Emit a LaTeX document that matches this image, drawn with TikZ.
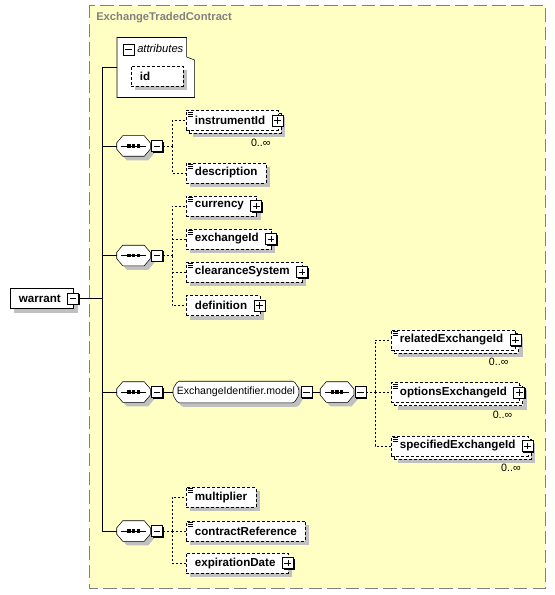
\documentclass[tikz,border=0pt]{standalone}
\usepackage{fontspec}
\setmainfont{Liberation Sans}
\usetikzlibrary{positioning,shadows}

\definecolor{boxfill}{RGB}{255,255,196}
\definecolor{boxline}{RGB}{128,128,128}
\definecolor{shade}{RGB}{192,192,192}

\pgfdeclarelayer{back}
\pgfdeclarelayer{shapes}
\pgfsetlayers{back,shapes,main}

\tikzset{
  name font/.style={font=\fontsize{8.7pt}{10pt}\selectfont\bfseries},
  shaded/.style={drop shadow={shadow xshift=3pt,shadow yshift=-3pt,fill=shade,opacity=1}},
  elem/.style={name font,draw,fill=white,dash pattern=on 2.25pt off 1.5pt,
    minimum height=15pt,inner xsep=6.5pt,inner ysep=0pt,anchor=west},
  single/.style={elem,shaded},
  multi/.style={elem,
    drop shadow={shadow xshift=5.25pt,shadow yshift=-5.25pt,fill=shade,opacity=1},
    copy shadow={shadow xshift=2.25pt,shadow yshift=-2.25pt,draw=black,fill=white,opacity=1}},
  simple/.style={path picture={
    \foreach \k in {1.1,2.6,4.1}
      \draw[solid,line width=0.6pt] ([shift={(1.2pt,-\k*1pt)}]path picture bounding box.north west) -- ++(4pt,0);}},
  sign room/.style={execute at end node={\hspace{3pt}}},
  boxsign/.style={draw,solid,fill=white,minimum size=8.25pt,inner sep=0pt},
  signshadow/.style={drop shadow={shadow xshift=1pt,shadow yshift=-1pt,fill=black,opacity=1}},
  minus sign/.style={path picture={
    \draw[solid] ([xshift=1.6pt]path picture bounding box.west) -- ([xshift=-1.6pt]path picture bounding box.east);}},
  plus sign/.style={path picture={
    \draw[solid] ([xshift=1.6pt]path picture bounding box.west) -- ([xshift=-1.6pt]path picture bounding box.east)
      ([yshift=-1.6pt]path picture bounding box.north) -- ([yshift=1.6pt]path picture bounding box.south);}},
  minusbox/.style={boxsign,signshadow,minus sign},
  plusbox/.style={boxsign,signshadow,plus sign},
  seq/.style={minimum width=24.75pt,minimum height=15pt,inner sep=0pt},
  grp/.style={font=\fontsize{7.9pt}{9pt}\selectfont,minimum width=94pt,minimum height=15.75pt,inner sep=0pt,anchor=west},
  conn/.style={dash pattern=on 1.5pt off 1.5pt},
  occ/.style={font=\fontsize{8pt}{9pt}\selectfont,inner sep=0pt,anchor=east},
}

% octagon outline behind a node
\newcommand\chamfer[3][]{%
  \begin{pgfonlayer}{shapes}
    \path[draw,fill=white,shaded,#1] ([yshift=2.4pt]#2.west) -- ([xshift=#3]#2.north west)
      -- ([xshift=-#3]#2.north east) -- ([yshift=2.4pt]#2.east) -- ([yshift=-2.4pt]#2.east)
      -- ([xshift=-#3]#2.south east) -- ([xshift=#3]#2.south west) -- ([yshift=-2.4pt]#2.west) -- cycle;
  \end{pgfonlayer}}
% sequence compositor
\newcommand\seqmark[1]{%
  \chamfer{#1}{4.5pt}
  \draw ([xshift=3.5pt]#1.west) -- ([xshift=-3.5pt]#1.east);
  \foreach \d in {-3.5,0,3.5}
    \fill ([xshift=\d*1pt]#1.center) +(-1.25pt,-1.25pt) rectangle +(1.25pt,1.25pt);}

\begin{document}
\begin{tikzpicture}[x=0.75pt,y=-0.75pt,line width=0.75pt]
  \useasboundingbox (0,0) rectangle (555,595);
  % complex type box
  \begin{pgfonlayer}{back}
    \draw[boxline,fill=boxfill,dash pattern=on 10pt off 4pt] (89,5) rectangle (545,588);
  \end{pgfonlayer}
  \node[anchor=west,inner sep=0pt,text=boxline,font=\fontsize{8.4pt}{10pt}\selectfont\bfseries] (title) at (96,18) {ExchangeTradedContract};

  % attributes
  \node[minimum width=57.75pt,minimum height=44.6pt,inner sep=0pt,anchor=north west] (attr) at (117,37.5) {};
  \draw[fill=white] (attr.south west) |- ([xshift=-6pt]attr.north east)
    -- ([shift={(-6pt,-14.6pt)}]attr.north east) -- ([yshift=-16.9pt]attr.north east) -- (attr.south east) -- cycle;
  \node[boxsign,minus sign] (attrminus) at (128.5,49.5) {};
  \node[anchor=west,inner sep=0pt,font=\fontsize{8.4pt}{10pt}\selectfont\itshape] (attrlabel) at (137,49) {attributes};
  \node[single,text width=26pt,align=left] (id) at (131,76) {id};

  % root element
  \node[elem,solid,shaded,sign room] (warrant) at (10,298.5) {warrant};
  \node[minusbox] (warrantminus) at ([xshift=-0.5pt]warrant.east) {};
  \coordinate (trunk) at (102,298.5);

  % sequences
  \node[seq] (seqA) at (133.5,146) {};
  \node[minusbox,right=0.75pt of seqA] (seqAminus) {};
  \node[seq] (seqB) at (133.5,255.5) {};
  \node[minusbox,right=0.75pt of seqB] (seqBminus) {};
  \node[seq] (seqC) at (133.5,392) {};
  \node[minusbox,right=0.75pt of seqC] (seqCminus) {};
  \node[grp] (model) at (173,392) {ExchangeIdentifier.model};
  \node[minusbox,right=1.5pt of model] (modelminus) {};
  \node[seq] (seqD) at (337,392) {};
  \node[minusbox,right=0.75pt of seqD] (seqDminus) {};
  \node[seq] (seqE) at (133.5,531) {};
  \node[minusbox,right=0.75pt of seqE] (seqEminus) {};
  \foreach \s in {seqA,seqB,seqC,seqD,seqE}
    \seqmark{\s};
  \chamfer[rounded corners=1.2pt]{model}{3.5pt}

  \coordinate (jA) at (172,146);
  \coordinate (jB) at (172,255.5);
  \coordinate (jD) at (375,392);
  \coordinate (jE) at (172,531);

  % elements
  \node[multi,simple,sign room] (instrumentId) at (186,120.5) {instrumentId};
  \node[single,simple] (description) at (186,173) {description};
  \node[single,simple,sign room] (currency) at (186,206) {currency};
  \node[single,simple,sign room] (exchangeId) at (186,239) {exchangeId};
  \node[single,simple,sign room] (clearanceSystem) at (186,272) {clearanceSystem};
  \node[single,sign room] (definition) at (186,305.5) {definition};
  \node[multi,simple,sign room] (relatedExchangeId) at (391,340) {relatedExchangeId};
  \node[multi,simple,sign room] (optionsExchangeId) at (391,392.5) {optionsExchangeId};
  \node[multi,simple,sign room] (specifiedExchangeId) at (391,446) {specifiedExchangeId};
  \node[single,simple] (multiplier) at (186,497) {multiplier};
  \node[single,simple] (contractReference) at (186,531) {contractReference};
  \node[single,sign room] (expirationDate) at (186,563) {expirationDate};

  \foreach \n in {instrumentId,currency,exchangeId,clearanceSystem,definition,
      relatedExchangeId,optionsExchangeId,specifiedExchangeId,expirationDate}
    \node[plusbox] (\n plus) at ([xshift=-0.5pt]\n.east) {};
  \foreach \n in {instrumentId,relatedExchangeId,optionsExchangeId,specifiedExchangeId}
    \node[occ] (\n occ) at ([shift={(-5.5pt,-9pt)}]\n.south east) {0..∞};

  % connectors
  \draw (warrantminus.east) -- (trunk);
  \foreach \n in {attr,seqA,seqB,seqC,seqE}
    \draw (\n.west) -| (trunk);
  \draw (seqCminus.east) -- (model.west);
  \draw (modelminus.east) -- (seqD.west);
  \draw[conn] (seqAminus.east) -- (jA);
  \draw[conn] (seqBminus.east) -- (jB);
  \draw[conn] (seqDminus.east) -- (jD);
  \draw[conn] (seqEminus.east) -- (jE);
  \foreach \n in {instrumentId,description}
    \draw[conn] (jA) |- (\n.west);
  \foreach \n in {currency,exchangeId,clearanceSystem,definition}
    \draw[conn] (jB) |- (\n.west);
  \foreach \n in {relatedExchangeId,optionsExchangeId,specifiedExchangeId}
    \draw[conn] (jD) |- (\n.west);
  \foreach \n in {multiplier,contractReference,expirationDate}
    \draw[conn] (jE) |- (\n.west);
\end{tikzpicture}
\end{document}
